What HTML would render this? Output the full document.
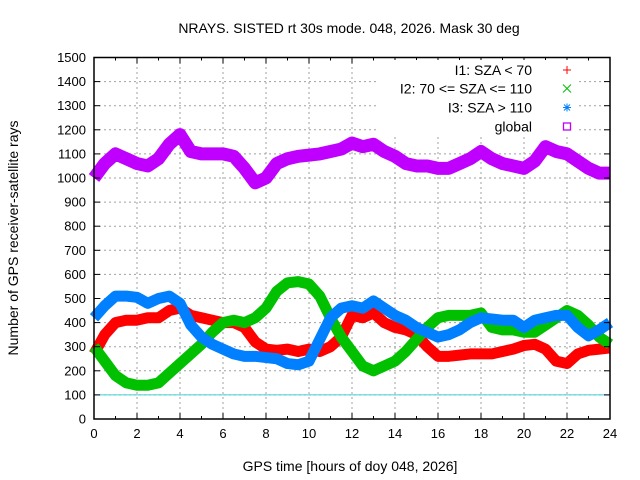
<!DOCTYPE html>
<html><head><meta charset="utf-8"><style>
body{margin:0;background:#fff}
svg{display:block;font-family:"Liberation Sans",sans-serif}
</style></head><body>
<svg id="chart" width="640" height="480" viewBox="0 0 640 480">
<text x="349" y="33" font-size="14" text-anchor="middle" fill="#000">NRAYS. SISTED rt 30s mode. 048, 2026. Mask 30 deg</text>
<text transform="translate(18,238) rotate(-90)" font-size="14" text-anchor="middle">Number of GPS receiver-satellite rays</text>
<text x="350" y="471" font-size="14" text-anchor="middle">GPS time [hours of doy 048, 2026]</text>
<g id="grid"></g>
<g id="series"></g>
<g id="axes"></g>
<g id="legend"></g>
</svg>
<script>
const hours=[0,0.5,1,1.5,2,2.5,3,3.5,4,4.5,5,5.5,6,6.5,7,7.5,8,8.5,9,9.5,10,10.5,11,11.5,12,12.5,13,13.5,14,14.5,15,15.5,16,16.5,17,17.5,18,18.5,19,19.5,20,20.5,21,21.5,22,22.5,23,23.5,24];
const i1=[270,350,400,410,410,420,420,450,460,430,420,410,400,400,380,320,290,285,290,280,290,280,300,340,430,420,440,400,380,370,350,300,260,260,265,270,270,270,280,290,305,310,290,240,230,270,285,290,295];
const i2=[300,240,180,150,140,140,150,190,230,270,310,360,400,410,400,420,460,530,565,570,560,510,420,340,280,220,200,220,240,280,330,380,420,430,430,430,440,380,370,370,360,360,390,420,450,430,390,340,310];
const i3=[420,470,510,510,505,480,500,510,480,390,340,310,290,270,260,260,255,250,230,225,240,330,420,460,470,460,490,460,430,410,380,360,340,350,370,400,420,415,410,410,380,410,420,430,430,380,345,370,400];
const glob=[1000,1060,1100,1080,1060,1050,1080,1140,1180,1110,1100,1100,1100,1090,1040,980,1000,1060,1080,1090,1095,1100,1110,1120,1145,1130,1140,1110,1090,1060,1050,1050,1040,1040,1060,1080,1110,1080,1060,1050,1040,1070,1130,1110,1100,1070,1040,1020,1020];
const yTicks=[0,100,200,300,400,500,600,700,800,900,1000,1100,1200,1300,1400,1500];
const xTicks=[0,2,4,6,8,10,12,14,16,18,20,22,24];
const seriesNames=["I1: SZA < 70","I2: 70 <= SZA <= 110","I3: SZA > 110","global"];
const X0=94,X1=610,Y0=419,Y1=57.5;
const sx=h=>X0+(X1-X0)*h/24, sy=v=>Y0-(Y0-Y1)*v/1500;
const NS="http://www.w3.org/2000/svg";
function mk(tag,attrs,parent){const e=document.createElementNS(NS,tag);for(const k in attrs)e.setAttribute(k,attrs[k]);parent.appendChild(e);return e;}
const grid=document.getElementById('grid'),axes=document.getElementById('axes'),ser=document.getElementById('series'),leg=document.getElementById('legend');
yTicks.forEach(v=>{const y=sy(v);
 if(v>0&&v<1500){const g=mk('line',{x1:X0,x2:X1,y1:y,y2:y,stroke:'#a0a0a0','stroke-dasharray':'2,3','stroke-width':1},grid);
 
 }
 const t=mk('text',{x:X0-8,y:y+4.5,'font-size':13,'text-anchor':'end'},axes);t.textContent=v;
 
 
 mk('line',{x1:X0,x2:X0+6,y1:y,y2:y,stroke:'#000'},axes);mk('line',{x1:X1,x2:X1-6,y1:y,y2:y,stroke:'#000'},axes);});
xTicks.forEach(h=>{const x=sx(h);
 if(h>0&&h<24){const g=mk('line',{x1:x,x2:x,y1:Y0,y2:Y1,stroke:'#a0a0a0','stroke-dasharray':'2,3'},grid);
 
 }
 const t=mk('text',{x:x,y:Y0+19,'font-size':13,'text-anchor':'middle'},axes);t.textContent=h;
 
 
 mk('line',{x1:x,x2:x,y1:Y0,y2:Y0-6,stroke:'#000'},axes);mk('line',{x1:x,x2:x,y1:Y1,y2:Y1+6,stroke:'#000'},axes);});
for(let h=1;h<24;h+=2){const x=sx(h);mk('line',{x1:x,x2:x,y1:Y0,y2:Y0-3,stroke:'#000'},axes);mk('line',{x1:x,x2:x,y1:Y1,y2:Y1+3,stroke:'#000'},axes);}
const ref=mk('line',{x1:X0,x2:X1,y1:sy(100),y2:sy(100),stroke:'#40d0d0','stroke-width':1},grid);


const fr=mk('rect',{x:X0,y:Y1,width:X1-X0,height:Y0-Y1,fill:'none',stroke:'#000','stroke-width':1.5},axes);


// legend background
mk('rect',{x:376,y:60,width:200,height:76,fill:'#fff'},leg);
const cols=['#ff0000','#00c000','#0080ff','#c000ff'];
const data=[i1,i2,i3,glob];
const names=['series-i1','series-i2','series-i3','series-global'];
data.forEach((arr,k)=>{
 const pts=hours.map((h,i)=>sx(h)+','+sy(arr[i])).join(' ');
 const p=mk('polyline',{points:pts,fill:'none',stroke:cols[k],'stroke-width':k==3?13:11,'stroke-linejoin':'round','stroke-linecap':'butt'},ser);
 
 
});
const ly=[70,88.5,107.5,126.5];
seriesNames.forEach((n,k)=>{
 const t=mk('text',{x:532,y:ly[k]+5,'font-size':14,'text-anchor':'end'},leg);t.textContent=n;
 
 
 const x=567,y=ly[k],c=cols[k];
 if(k==0){mk('path',{d:`M${x-4},${y}H${x+4}M${x},${y-4}V${y+4}`,stroke:c},leg);}
 else if(k==1){mk('path',{d:`M${x-4},${y-4}L${x+4},${y+4}M${x-4},${y+4}L${x+4},${y-4}`,stroke:c},leg);}
 else if(k==2){mk('path',{d:`M${x-4},${y}H${x+4}M${x},${y-4}V${y+4}M${x-3},${y-3}L${x+3},${y+3}M${x-3},${y+3}L${x+3},${y-3}`,stroke:c},leg);}
 else {mk('rect',{x:x-3.5,y:y-3.5,width:7,height:7,fill:'none',stroke:c,'stroke-width':1.3},leg);}
});
</script>
</body></html>
